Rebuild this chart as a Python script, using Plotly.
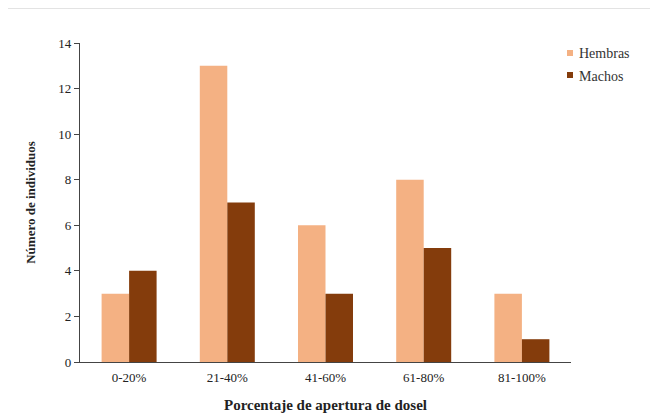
import plotly.graph_objects as go

categories = ["0-20%", "21-40%", "41-60%", "61-80%", "81-100%"]
hembras = [3, 13, 6, 8, 3]
machos = [4, 7, 3, 5, 1]
y_ticks = [0, 2, 4, 6, 8, 10, 12, 14]
series_names = ["Hembras", "Machos"]
series_colors = ["#F4B183", "#843C0C"]

font_family = "Liberation Serif"

fig = go.Figure()
for name, vals, col in zip(series_names, [hembras, machos], series_colors):
    fig.add_trace(go.Bar(name=name, x=categories, y=vals, marker_color=col,
                         marker_line_width=0, showlegend=False))

# page body has an 8px margin: convert screen coordinates to paper coordinates
def px(sx):
    return (sx - 80) / 491

def py(sy):
    return (362 - sy) / 319

shapes = [dict(type="line", xref="paper", yref="paper", x0=px(7), x1=px(700),
               y0=py(8.5), y1=py(8.5), line=dict(color="#E3E3E3", width=1))]
annotations = []
for i, (name, col) in enumerate(zip(series_names, series_colors)):
    cy = 53 + i * 22
    shapes.append(dict(type="rect", xref="paper", yref="paper",
                       x0=px(567), x1=px(573), y0=py(cy - 3), y1=py(cy + 3),
                       fillcolor=col, line=dict(width=0)))
    annotations.append(dict(text=name, xref="paper", yref="paper", x=px(577), y=py(cy + 1),
                            xanchor="left", yanchor="middle", showarrow=False,
                            font=dict(family=font_family, size=14, color="#333333")))

fig.update_layout(
    width=658, height=415,
    barmode="group", bargap=0.44, bargroupgap=0,
    paper_bgcolor="white", plot_bgcolor="white",
    margin=dict(l=72, r=95, t=35, b=61),
    font=dict(family=font_family, size=13, color="#222222"),
    showlegend=False,
    xaxis=dict(showline=True, linecolor="#444444", linewidth=1.2, ticks="",
               tickfont=dict(family=font_family, size=13), showgrid=False, ticklabelstandoff=3,
               title=dict(text="<b>Porcentaje de apertura de dosel</b>",
                          font=dict(family=font_family, size=15), standoff=15)),
    yaxis=dict(range=[0, 14], tickvals=y_ticks, showline=True, linecolor="#444444", linewidth=1.2,
               ticks="outside", ticklen=5, tickcolor="#444444", showgrid=False,
               tickfont=dict(family=font_family, size=13), zeroline=False,
               title=dict(text="<b>Número de individuos</b>",
                          font=dict(family=font_family, size=13), standoff=19)),
    shapes=shapes,
    annotations=annotations,
)

fig.write_html("out.html")
